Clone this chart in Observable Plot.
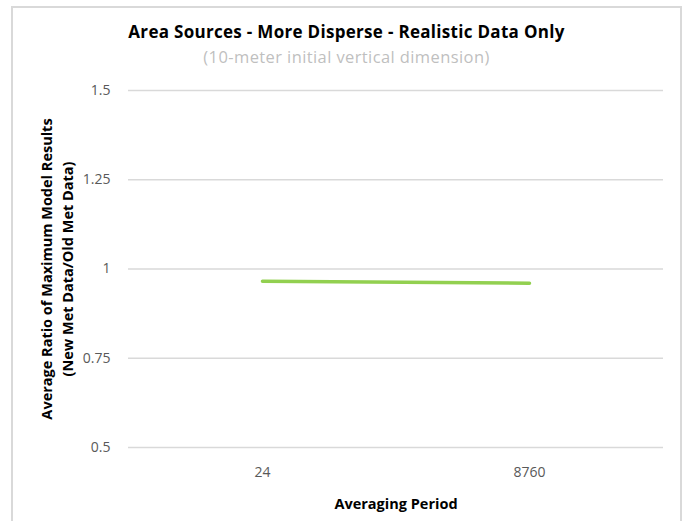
<!DOCTYPE html>
<html>
<head>
<meta charset="utf-8">
<script src="https://cdn.jsdelivr.net/npm/d3@7"></script>
<script src="https://cdn.jsdelivr.net/npm/@observablehq/plot@0.6"></script>
<style>
  html, body { margin: 0; padding: 0; background: #fff; }
  #wrap { position: relative; width: 686px; height: 521px; overflow: hidden; font-family: "Open Sans", Lato, sans-serif; }
  #frame { position: absolute; left: 11px; top: 6px; width: 671px; height: 530px; border: 2px solid #d9d9d9; box-sizing: border-box; }
  #title { position: absolute; left: 12px; width: 669px; top: 21.5px; text-align: center; font-weight: bold; font-size: 17px; letter-spacing: 0.3px; color: #000; line-height: 20px; white-space: nowrap; }
  #subtitle { position: absolute; left: 12px; width: 669px; top: 47px; text-align: center; font-size: 16.5px; letter-spacing: 0.4px; color: #bfbfbf; line-height: 20px; white-space: nowrap; }
  #chart { position: absolute; left: 0; top: 0; }
</style>
</head>
<body>
<div id="wrap">
  <div id="chart"></div>
  <div id="frame"></div>
  <div id="title">Area Sources - More Disperse - Realistic Data Only</div>
  <div id="subtitle">(10-meter initial vertical dimension)</div>
</div>
<script>
const periods = ["24", "8760"];
const ratios = [0.966, 0.960];
const yTicks = [0.5, 0.75, 1, 1.25, 1.5];
const xTitle = "Averaging Period";
const yTitle = "Average Ratio of Maximum Model Results\n(New Met Data/Old Met Data)";

const data = periods.map((p, i) => ({period: p, ratio: ratios[i]}));

const chart = Plot.plot({
  width: 686,
  height: 521,
  marginLeft: 128,
  marginRight: 23,
  marginTop: 90,
  marginBottom: 74,
  style: {fontFamily: "'Open Sans', Lato, sans-serif", background: "transparent"},
  x: {type: "point", domain: periods, padding: 0.5},
  y: {domain: [0.5, 1.5]},
  marks: [
    Plot.ruleY(yTicks, {stroke: "#d9d9d9", strokeWidth: 1.3}),
    Plot.axisY({ticks: yTicks, tickSize: 0, tickPadding: 18, fontSize: 14, fill: "#595959", label: null, tickFormat: d => String(d)}),
    Plot.axisX({tickSize: 0, tickPadding: 20, fontSize: 14, fill: "#595959", label: null}),
    Plot.line(data, {x: "period", y: "ratio", stroke: "#92d050", strokeWidth: 3.5, strokeLinecap: "round"}),
    Plot.text([xTitle], {frameAnchor: "bottom", dy: 61, fontWeight: "bold", fontSize: 14.5, fill: "#000"}),
    Plot.text([yTitle], {frameAnchor: "left", dx: -73, rotate: -90, textAnchor: "middle", fontWeight: "bold", fontSize: 14.5, fill: "#000", lineHeight: 1.5})
  ]
});
document.getElementById("chart").appendChild(chart);
</script>
</body>
</html>
